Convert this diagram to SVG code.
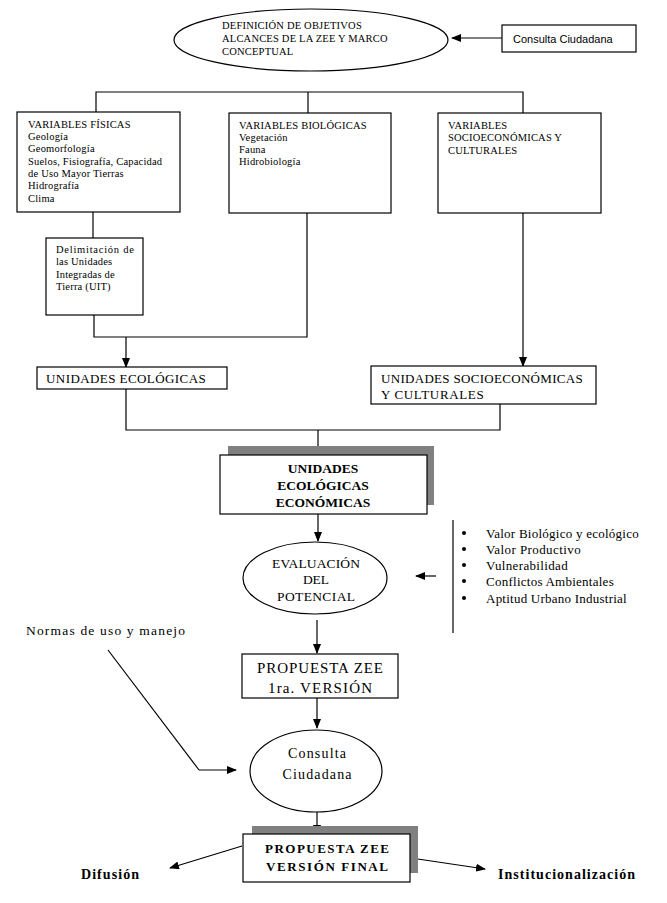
<svg xmlns="http://www.w3.org/2000/svg" width="667" height="903" viewBox="0 0 667 903">
<defs>
<marker id="ah" markerWidth="10" markerHeight="8" refX="9" refY="4" orient="auto" markerUnits="userSpaceOnUse">
<path d="M0,0 L10,4 L0,8 Z" fill="#000"/>
</marker>
<style>
.s{fill:#fff;stroke:#000;stroke-width:1.2}
.sh{fill:#808080;stroke:none}
.c{fill:none;stroke:#000;stroke-width:1.2}
.a{fill:none;stroke:#000;stroke-width:1.2;marker-end:url(#ah)}
.t{font-family:"Liberation Serif","Times New Roman",serif;fill:#000}
.t10{font-size:10.5px;letter-spacing:0.2px}
.t12{font-size:13px;letter-spacing:0.3px}
.t13{font-size:13.5px}
.b{font-weight:bold}
.sans{font-family:"Liberation Sans",Arial,sans-serif;font-size:11px;fill:#000}
</style>
</defs>
<rect width="667" height="903" fill="#fff"/>

<g id="connectors">
<path class="a" d="M502,38 L452,38"/>
<path class="c" d="M96,112 V92 H523 V113 M308,92 V113"/>
<path class="c" d="M93,212 V238"/>
<path class="c" d="M94,315 V337 H307 V213"/>
<path class="a" d="M126,337 V367"/>
<path class="a" d="M523,213 V366"/>
<path class="c" d="M126,389 V430 H500 V404"/>
<path class="a" d="M318,430 V455"/>
<path class="a" d="M318,514 V541"/>
<path class="a" d="M436,576 H416"/>
<path class="c" d="M453,520 V633"/>
<path class="a" d="M317,620 V653"/>
<path class="a" d="M317,698 V728"/>
<path class="c" d="M108,650 L199,770"/>
<path class="a" d="M199,770 H236"/>
<path class="a" d="M317,810 V834"/>
<path class="a" d="M242,846 L170,868"/>
<path class="a" d="M411,858 L485,869"/>
</g>

<g id="n-objetivos">
<ellipse class="s" cx="311" cy="40" rx="137" ry="31"/>
<text class="t t10" x="222" y="29">DEFINICIÓN DE OBJETIVOS</text>
<text class="t t10" x="222" y="42">ALCANCES DE LA ZEE Y MARCO</text>
<text class="t t10" x="222" y="55">CONCEPTUAL</text>
</g>

<g id="n-consulta1">
<rect class="s" x="502" y="25" width="134" height="27"/>
<text class="sans" x="513" y="43">Consulta Ciudadana</text>
</g>

<g id="n-fisicas">
<rect class="s" x="17" y="112" width="163" height="100"/>
<text class="t t10" x="28" y="128">VARIABLES FÍSICAS</text>
<text class="t t10" x="28" y="140">Geología</text>
<text class="t t10" x="28" y="152">Geomorfología</text>
<text class="t t10" x="28" y="165">Suelos, Fisiografía, Capacidad</text>
<text class="t t10" x="28" y="177">de Uso Mayor Tierras</text>
<text class="t t10" x="28" y="189">Hidrografía</text>
<text class="t t10" x="28" y="202">Clima</text>
</g>

<g id="n-biologicas">
<rect class="s" x="229" y="113" width="162" height="100"/>
<text class="t t10" x="239" y="129">VARIABLES BIOLÓGICAS</text>
<text class="t t10" x="239" y="141">Vegetación</text>
<text class="t t10" x="239" y="153">Fauna</text>
<text class="t t10" x="239" y="165">Hidrobiología</text>
</g>

<g id="n-socio">
<rect class="s" x="438" y="113" width="163" height="100"/>
<text class="t t10" x="448" y="129">VARIABLES</text>
<text class="t t10" x="448" y="141">SOCIOECONÓMICAS Y</text>
<text class="t t10" x="448" y="154">CULTURALES</text>
</g>

<g id="n-uit">
<rect class="s" x="46" y="238" width="97" height="77"/>
<text class="t t10" x="56" y="253" textLength="78" lengthAdjust="spacing">Delimitación de</text>
<text class="t t10" x="56" y="265">las Unidades</text>
<text class="t t10" x="56" y="278">Integradas de</text>
<text class="t t10" x="56" y="290">Tierra (UIT)</text>
</g>

<g id="n-ue">
<rect class="s" x="37" y="367" width="190" height="22"/>
<text class="t t12" x="46" y="383" textLength="160" lengthAdjust="spacing">UNIDADES ECOLÓGICAS</text>
</g>

<g id="n-usc">
<rect class="s" x="371" y="366" width="225" height="38"/>
<text class="t t12" x="381" y="383" textLength="202" lengthAdjust="spacing">UNIDADES SOCIOECONÓMICAS</text>
<text class="t t12" x="381" y="399" textLength="103" lengthAdjust="spacing">Y CULTURALES</text>
</g>

<g id="n-uee">
<rect class="sh" x="228" y="446" width="206" height="59"/>
<rect class="s" x="220" y="455" width="207" height="59"/>
<text class="t t13 b" x="323" y="473" text-anchor="middle">UNIDADES</text>
<text class="t t13 b" x="323" y="490" text-anchor="middle">ECOLÓGICAS</text>
<text class="t t13 b" x="323" y="507" text-anchor="middle">ECONÓMICAS</text>
</g>

<g id="n-evaluacion">
<ellipse class="s" cx="315" cy="578" rx="72" ry="36"/>
<text class="t t13" x="316" y="568" text-anchor="middle" textLength="88" lengthAdjust="spacing">EVALUACIÓN</text>
<text class="t t13" x="316" y="584" text-anchor="middle">DEL</text>
<text class="t t13" x="316" y="601" text-anchor="middle" textLength="78" lengthAdjust="spacing">POTENCIAL</text>
</g>

<g id="n-criterios">
<circle cx="464" cy="533" r="2" fill="#000"/>
<circle cx="464" cy="549" r="2" fill="#000"/>
<circle cx="464" cy="565" r="2" fill="#000"/>
<circle cx="464" cy="581" r="2" fill="#000"/>
<circle cx="464" cy="598" r="2" fill="#000"/>
<text class="t t12" x="486" y="538" textLength="153" lengthAdjust="spacing">Valor Biológico y ecológico</text>
<text class="t t12" x="486" y="554" textLength="95" lengthAdjust="spacing">Valor Productivo</text>
<text class="t t12" x="486" y="570" textLength="82" lengthAdjust="spacing">Vulnerabilidad</text>
<text class="t t12" x="486" y="586" textLength="128" lengthAdjust="spacing">Conflictos Ambientales</text>
<text class="t t12" x="486" y="603" textLength="141" lengthAdjust="spacing">Aptitud Urbano Industrial</text>
</g>

<g id="n-normas">
<text class="t t13" x="26" y="635" textLength="159" lengthAdjust="spacing">Normas de uso y manejo</text>
</g>

<g id="n-propuesta1">
<rect class="s" x="242" y="654" width="156" height="44"/>
<text class="t" font-size="15" x="320" y="673" text-anchor="middle" textLength="126" lengthAdjust="spacing">PROPUESTA ZEE</text>
<text class="t" font-size="15" x="320" y="693" text-anchor="middle" textLength="104" lengthAdjust="spacing">1ra. VERSIÓN</text>
</g>

<g id="n-consulta2">
<ellipse class="s" cx="316" cy="771" rx="66" ry="41"/>
<text class="t" font-size="14" x="317" y="758" text-anchor="middle" textLength="58" lengthAdjust="spacing">Consulta</text>
<text class="t" font-size="14" x="317" y="779" text-anchor="middle" textLength="69" lengthAdjust="spacing">Ciudadana</text>
</g>

<g id="n-final">
<rect class="sh" x="252" y="826" width="166" height="47"/>
<rect class="s" x="243" y="834" width="167" height="48"/>
<text class="t b" font-size="13" x="327" y="853" text-anchor="middle" textLength="124" lengthAdjust="spacing">PROPUESTA ZEE</text>
<text class="t b" font-size="13" x="327" y="871" text-anchor="middle" textLength="122" lengthAdjust="spacing">VERSIÓN FINAL</text>
</g>

<g id="n-difusion">
<text class="t b" font-size="14" x="81" y="879" textLength="58" lengthAdjust="spacing">Difusión</text>
</g>

<g id="n-inst">
<text class="t b" font-size="14" x="498" y="879" textLength="137" lengthAdjust="spacing">Institucionalización</text>
</g>
</svg>
